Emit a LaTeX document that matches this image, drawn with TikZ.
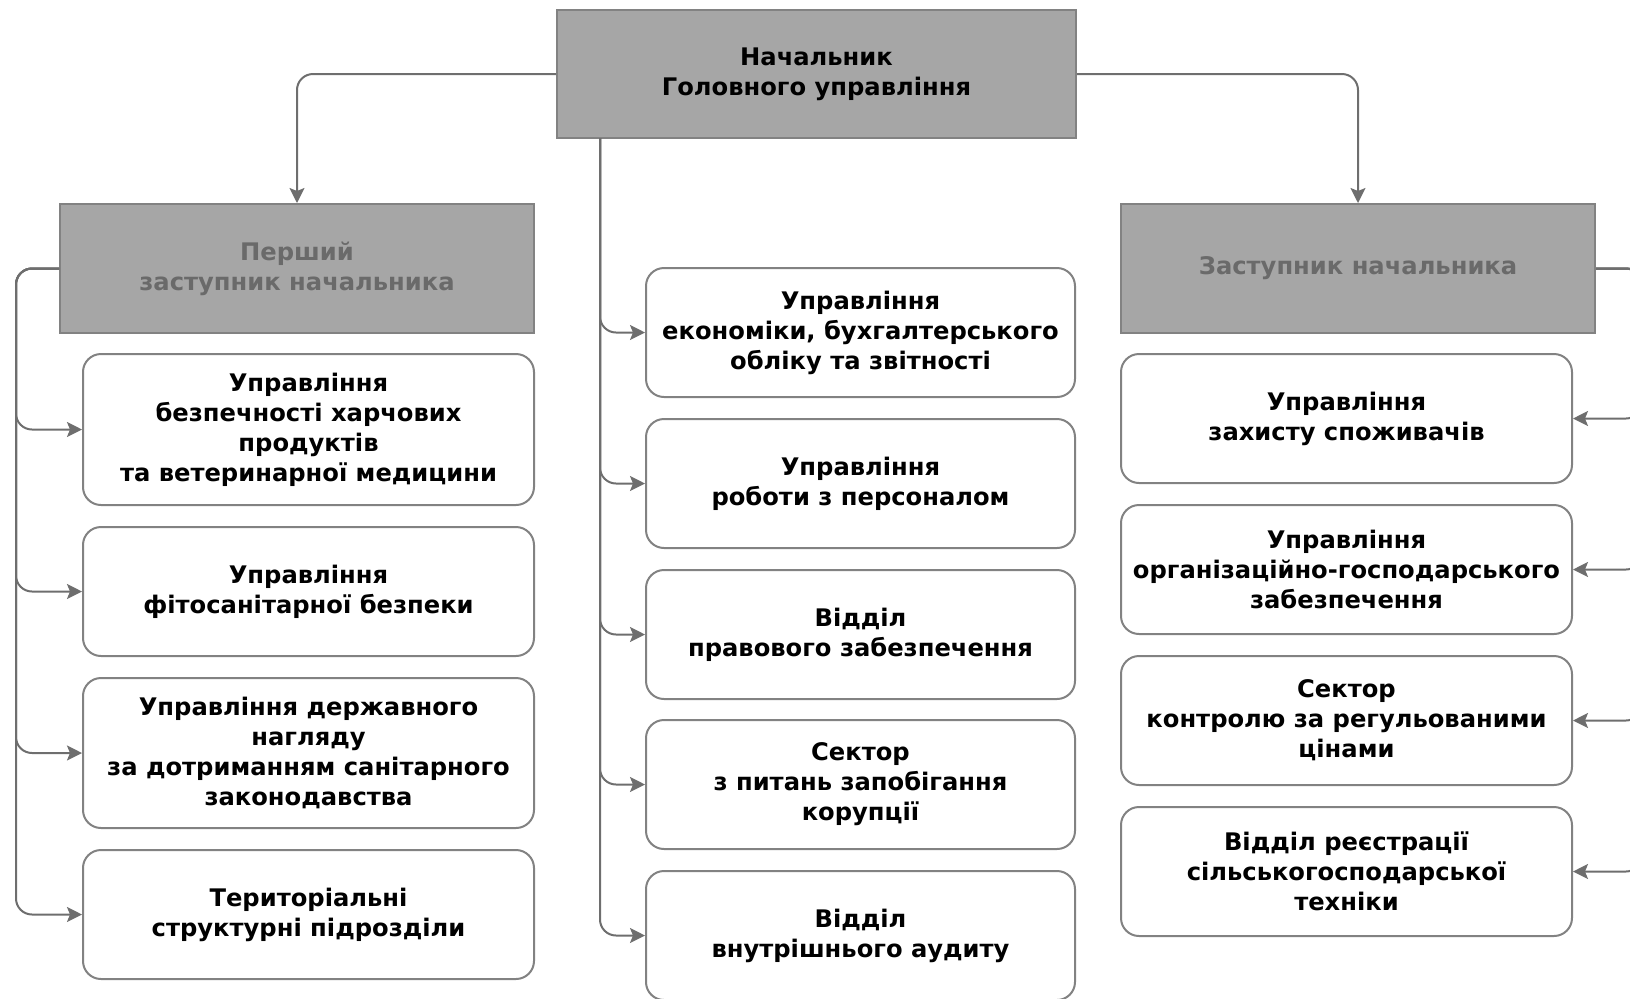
\documentclass[tikz,border=0pt]{standalone}
\usepackage{fontspec}
\setmainfont{DejaVu Sans}
\usetikzlibrary{arrows.meta}
\definecolor{grfill}{HTML}{A6A6A6}
\definecolor{grline}{HTML}{828282}
\definecolor{grtext}{HTML}{6A6A6A}
\definecolor{grconn}{HTML}{6E6E6E}
\tikzset{hd/.style={draw=grline, line width=1pt, fill=grfill, align=center, inner sep=0pt,
    font=\bfseries\fontsize{12.1}{15}\selectfont}}
\tikzset{bx/.style={draw=grline, line width=1pt, fill=white, rounded corners=9pt, align=center,
    inner sep=0pt, minimum height=64.5pt, font=\bfseries\fontsize{12.1}{15}\selectfont}}
\tikzset{cn/.style={draw=grconn, line width=1pt, rounded corners=8pt,
    -{Stealth[length=7.5pt,width=7.5pt,inset=1.5pt]}}}

\begin{document}
\begin{tikzpicture}[x=0.5pt, y=-0.5pt]
  \useasboundingbox (0,0) rectangle (1630,998);

  \node[hd, minimum width=259.5pt, minimum height=64pt] (top) at (816.5,74) {Начальник\\Головного управління};
  \node[hd, text=grtext, minimum width=237pt, minimum height=64.5pt] (lh) at (297,268.5) {Перший\\заступник начальника};
  \node[hd, text=grtext, minimum width=237pt, minimum height=64.5pt] (rh) at (1358,268.5) {Заступник начальника};

  \begin{scope}[every node/.style={bx, minimum width=214.5pt}]
    \node (m1) at (860.5,332.5) {Управління\\економіки, бухгалтерського\\обліку та звітності};
    \node (m2) at (860.5,483.5) {Управління\\роботи з персоналом};
    \node (m3) at (860.5,634.5) {Відділ\\правового забезпечення};
    \node (m4) at (860.5,784.5) {Сектор\\з питань запобігання\\корупції};
    \node (m5) at (860.5,935.5) {Відділ\\внутрішнього аудиту};
  \end{scope}

  \begin{scope}[every node/.style={bx, minimum width=225.5pt}]
    \node[minimum height=75.5pt] (l1) at (308.5,429.5) {Управління\\безпечності харчових\\продуктів\\та ветеринарної медицини};
    \node (l2) at (308.5,591.5) {Управління\\фітосанітарної безпеки};
    \node[minimum height=75pt] (l3) at (308.5,753) {Управління державного\\нагляду\\за дотриманням санітарного\\законодавства};
    \node (l4) at (308.5,914.5) {Територіальні\\структурні підрозділи};

    \node (r1) at (1346.5,418.5) {Управління\\захисту споживачів};
    \node (r2) at (1346.5,569.5) {Управління\\організаційно-господарського\\забезпечення};
    \node (r3) at (1346.5,720.5) {Сектор\\контролю за регульованими\\цінами};
    \node (r4) at (1346.5,871.5) {Відділ реєстрації\\сільськогосподарської\\техніки};
  \end{scope}

  \coordinate (mbus) at (600,138);
  \coordinate (lbus) at (16,0);
  \coordinate (rbus) at (1642,0);

  \draw[cn] (top.west) -| (lh.north);
  \draw[cn] (top.east) -| (rh.north);

  \foreach \n in {m1,m2,m3,m4,m5}
    \draw[cn] (mbus) |- (\n.west);

  \foreach \n in {l1,l2,l3,l4}
    \draw[cn] (lh.west) -| (lbus |- \n.west) -- (\n.west);

  \foreach \n in {r1,r2,r3,r4}
    \draw[cn] (rh.east) -| (rbus |- \n.east) -- (\n.east);
\end{tikzpicture}
\end{document}
